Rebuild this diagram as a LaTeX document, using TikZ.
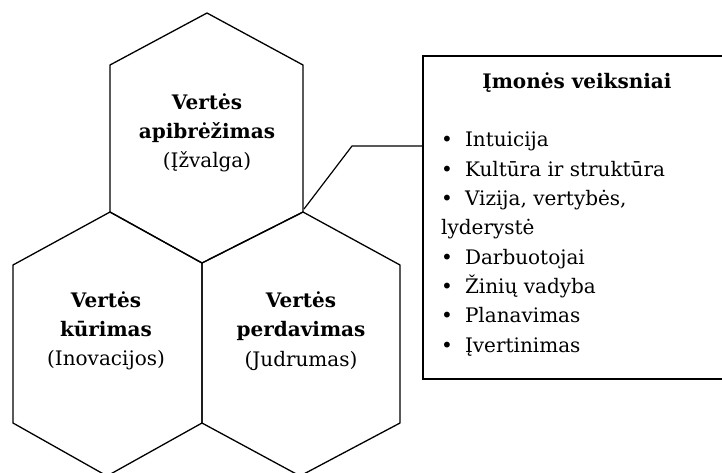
\documentclass[tikz,border=0pt]{standalone}
\usepackage{fontspec}
\setmainfont{DejaVu Serif}
\usetikzlibrary{positioning}

\begin{document}
\begin{tikzpicture}[
    x=1pt,
    y=-1pt,
    font=\fontsize{20}{29.3}\selectfont,
    hexline/.style={
        line width=1.3pt,
        line join=miter
    },
    hexlabel/.style={
        align=center,
        font=\fontsize{20}{29.3}\selectfont
    },
    factorbox/.style={
        draw,
        line width=2pt,
        anchor=north west,
        minimum width=330pt,
        minimum height=323pt,
        inner sep=0pt
    },
    link/.style={
        line width=1.2pt
    }
]

\clip (0,0) rectangle (722,472);

% hexagons
\draw[hexline] (207,13) -- (303,65) -- (303,212) -- (202,263) -- (110,212) -- (110,65) -- cycle;
\draw[hexline] (110,212) -- (202,263) -- (202,423) -- (107,476) -- (13,423) -- (13,265) -- cycle;
\draw[hexline] (303,212) -- (400,265) -- (400,423) -- (300,476) -- (202,423) -- (202,263) -- cycle;

\node[hexlabel] (define) at (207,133) {\textbf{Vertės}\\\textbf{apibrėžimas}\\(Įžvalga)};
\node[hexlabel] (create) at (106,331) {\textbf{Vertės}\\\textbf{kūrimas}\\(Inovacijos)};
\node[hexlabel] (deliver) at (301,331) {\textbf{Vertės}\\\textbf{perdavimas}\\(Judrumas)};

% factors box
\node[factorbox] (factors) at (422,55) {};
\node[font=\fontsize{20}{29.3}\selectfont\bfseries] (title) at (577,83) {Įmonės veiksniai};
\node[anchor=north west, align=left, inner sep=0pt] (list) at (441,132) {%
    •\hspace{12pt}Intuicija\\
    •\hspace{12pt}Kultūra ir struktūra\\
    •\hspace{12pt}Vizija, vertybės,\\
    lyderystė\\
    •\hspace{12pt}Darbuotojai\\
    •\hspace{12pt}Žinių vadyba\\
    •\hspace{12pt}Planavimas\\
    •\hspace{12pt}Įvertinimas};

% connector
\coordinate (joint) at (304,209);
\coordinate (bend) at (352,146);
\draw[link] (joint) -- (bend) -- (bend -| factors.west);

\end{tikzpicture}
\end{document}
